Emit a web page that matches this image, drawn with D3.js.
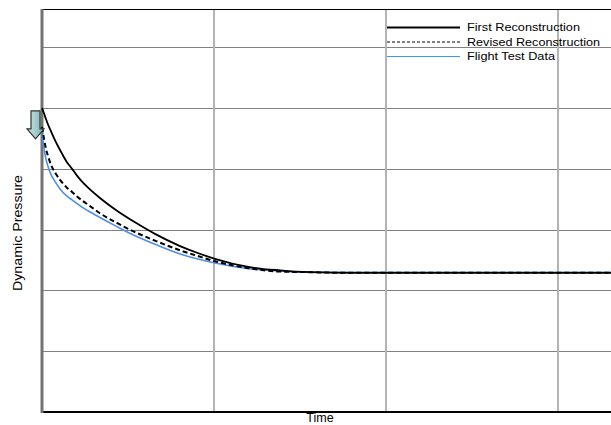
<!DOCTYPE html>
<html>
<head>
<meta charset="utf-8">
<script src="https://cdn.jsdelivr.net/npm/d3@7"></script>
<style>
  html, body { margin: 0; padding: 0; background: #fff; overflow: hidden; }
  text { font-family: Arial, "Liberation Sans", sans-serif; }
</style>
</head>
<body>
<svg id="chart" width="611" height="425"></svg>
<script>
// ---- data ----
const time = [0, 0.012, 0.023, 0.035, 0.052, 0.076, 0.105, 0.145, 0.175, 0.198, 0.233, 0.268, 0.337,
              0.436, 0.541, 0.657, 0.803, 0.902, 1.006, 1.193, 1.385, 1.559, 1.792, 2.373, 2.955, 3.31];
const firstReconstruction   = [5.00, 4.91, 4.82, 4.73, 4.62, 4.47, 4.31, 4.11, 4.00, 3.91, 3.79, 3.69, 3.52,
                               3.31, 3.12, 2.93, 2.73, 2.62, 2.52, 2.39, 2.33, 2.30, 2.29, 2.29, 2.29, 2.29];
const revisedReconstruction = [4.69, 4.49, 4.33, 4.21, 4.07, 3.94, 3.82, 3.69, 3.62, 3.56, 3.48, 3.41, 3.27,
                               3.11, 2.96, 2.82, 2.66, 2.57, 2.48, 2.37, 2.31, 2.30, 2.29, 2.29, 2.29, 2.29];
const flightTestData        = [4.57, 4.33, 4.16, 4.04, 3.91, 3.79, 3.67, 3.55, 3.49, 3.44, 3.37, 3.31, 3.20,
                               3.05, 2.90, 2.76, 2.60, 2.52, 2.45, 2.36, 2.32, 2.30, 2.30, 2.30, 2.30, 2.30];
const xGridTicks = [1, 2, 3];
const yGridTicks = [1, 2, 3, 4, 5, 6];
const seriesNames = ["First Reconstruction", "Revised Reconstruction", "Flight Test Data"];
const arrowValue = 4.84;   // annotation arrow, pointing at the start of the curves
const xLabel = "Time";
const yLabel = "Dynamic Pressure";

// ---- scales ----
const svg = d3.select("#chart");
const x = d3.scaleLinear().domain([0, 3.31]).range([42, 611]);
const y = d3.scaleLinear().domain([0, 6.63]).range([412, 9]);

// gridlines
svg.append("g").selectAll("line").data(yGridTicks).join("line")
  .attr("x1", x(0)).attr("x2", x(3.31))
  .attr("y1", d => Math.round(y(d)) + 0.5).attr("y2", d => Math.round(y(d)) + 0.5)
  .attr("stroke", "#808080").attr("stroke-width", 1);
svg.append("g").selectAll("line").data(xGridTicks).join("line")
  .attr("x1", d => Math.round(x(d))).attr("x2", d => Math.round(x(d)))
  .attr("y1", y(6.63)).attr("y2", y(0))
  .attr("stroke", "#b4b4b4").attr("stroke-width", 2);

// frame: top black line, bottom black axis, left grey axis
svg.append("line").attr("x1", x(0)).attr("x2", x(3.31)).attr("y1", 9.5).attr("y2", 9.5)
  .attr("stroke", "#000").attr("stroke-width", 1);
svg.append("line").attr("x1", x(0)).attr("x2", x(3.31)).attr("y1", y(0)).attr("y2", y(0))
  .attr("stroke", "#000").attr("stroke-width", 2);
svg.append("line").attr("x1", x(0)).attr("x2", x(0)).attr("y1", y(6.63)).attr("y2", y(0) + 1)
  .attr("stroke", "#737373").attr("stroke-width", 3);

// ---- lines ----
const line = (vals) => d3.line()
  .x((d, i) => x(time[i])).y(d => y(d))
  .curve(d3.curveMonotoneX)(vals);

svg.append("path").attr("d", line(flightTestData)).attr("fill", "none")
  .attr("stroke", "#4f8fe8").attr("stroke-width", 1.6);
svg.append("path").attr("d", line(revisedReconstruction)).attr("fill", "none")
  .attr("stroke", "#000").attr("stroke-width", 2).attr("stroke-dasharray", "5,3");
svg.append("path").attr("d", line(firstReconstruction)).attr("fill", "none")
  .attr("stroke", "#000").attr("stroke-width", 1.8);

// ---- arrow annotation ----
const ax = x(0) - 6.5, ay = y(arrowValue);
const grad = svg.append("defs").append("linearGradient").attr("id", "ag")
  .attr("x1", "0").attr("x2", "1").attr("y1", "0").attr("y2", "0");
grad.append("stop").attr("offset", "0%").attr("stop-color", "#c9e6e6");
grad.append("stop").attr("offset", "100%").attr("stop-color", "#7fb3b3");
svg.append("path")
  .attr("d", `M${ax-4.5},${ay-7} L${ax+4.5},${ay-7} L${ax+4.5},${ay+11} L${ax+8.5},${ay+11} L${ax},${ay+21} L${ax-8.5},${ay+11} L${ax-4.5},${ay+11} Z`)
  .attr("fill", "url(#ag)").attr("stroke", "#333").attr("stroke-width", 1.2);

// ---- legend ----
const legendStyles = [
  {stroke: "#000", width: 2, dash: null},
  {stroke: "#000", width: 1, dash: "3,2"},
  {stroke: "#3399ff", width: 1, dash: null}
];
const legendLengths = [113, 133, 88];
const lg = svg.append("g");
seriesNames.forEach((name, i) => {
  const ly = 27.5 + i * 14.5;
  const st = legendStyles[i];
  lg.append("line").attr("x1", 387).attr("x2", 460).attr("y1", ly).attr("y2", ly)
    .attr("stroke", st.stroke).attr("stroke-width", st.width)
    .attr("stroke-dasharray", st.dash);
  lg.append("text").attr("x", 467).attr("y", ly + 3.5)
    .attr("font-size", 11.5).attr("fill", "#000")
    .attr("textLength", legendLengths[i]).attr("lengthAdjust", "spacingAndGlyphs")
    .text(name);
});

// ---- axis titles ----
svg.append("text").attr("x", 320).attr("y", 422).attr("text-anchor", "middle")
  .attr("font-size", 12.5).attr("fill", "#000").text(xLabel);
svg.append("text").attr("transform", "translate(22,233) rotate(-90)")
  .attr("text-anchor", "middle").attr("font-size", 12)
  .attr("textLength", 116).attr("lengthAdjust", "spacingAndGlyphs")
  .attr("fill", "#000").text(yLabel);
</script>
</body>
</html>
